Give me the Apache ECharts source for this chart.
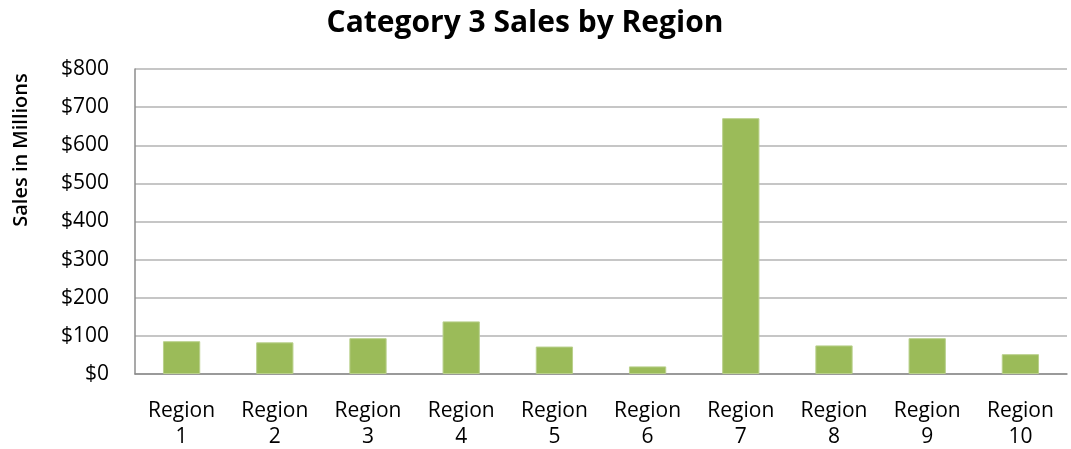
<!DOCTYPE html>
<html>
<head>
<meta charset="utf-8">
<style>
  html, body { margin: 0; padding: 0; background: #fff; }
  #chart { width: 1071px; height: 449px; }
</style>
<script src="https://cdn.jsdelivr.net/npm/echarts@6/dist/echarts.min.js"></script>
</head>
<body>
<div id="chart"></div>
<script>
// Category 3 sales per region, in millions of dollars
const regions = ['Region\n1', 'Region\n2', 'Region\n3', 'Region\n4', 'Region\n5',
                 'Region\n6', 'Region\n7', 'Region\n8', 'Region\n9', 'Region\n10'];
const sales = [86, 83, 94, 138, 72, 20, 671, 75, 94, 52];
const chartTitle = 'Category 3 Sales by Region';
const yAxisTitle = 'Sales in Millions';

const FONT = '"Open Sans", sans-serif';
const chart = echarts.init(document.getElementById('chart'), null, { renderer: 'canvas' });

chart.setOption({
  animation: false,
  backgroundColor: '#ffffff',
  graphic: [{
    // chart title, centred over the plot
    type: 'text',
    x: 525,
    y: 23,
    style: {
      text: chartTitle,
      font: 'bold 30px "Open Sans", sans-serif',
      fill: '#000',
      align: 'center',
      verticalAlign: 'middle'
    }
  }, {
    // rotated value-axis title
    type: 'text',
    x: 11,
    y: 150,
    rotation: Math.PI / 2,
    style: {
      text: yAxisTitle,
      font: '600 20px "Open Sans", sans-serif',
      fill: '#000',
      align: 'center',
      verticalAlign: 'top'
    }
  }],
  grid: {
    left: 135, right: 4, top: 69, bottom: 75,
    containLabel: false, outerBoundsMode: 'none'
  },
  xAxis: {
    type: 'category',
    data: regions,
    axisLine: { show: true, lineStyle: { color: '#8c8c8c', width: 1.5 } },
    axisTick: { show: false },
    axisLabel: {
      fontFamily: FONT, fontSize: 21, color: '#000',
      lineHeight: 26, margin: 24, interval: 0
    }
  },
  yAxis: {
    type: 'value',
    min: 0, max: 800, interval: 100,
    axisLine: { show: true, lineStyle: { color: '#8c8c8c', width: 1.5 } },
    axisTick: { show: false },
    splitLine: { lineStyle: { color: '#b3b3b3', width: 1.5 } },
    axisLabel: {
      fontFamily: FONT, fontSize: 21, color: '#000', margin: 26,
      formatter: v => '$' + v
    }
  },
  series: [{
    type: 'bar',
    data: sales,
    barWidth: '40%',
    itemStyle: { color: '#9bbb59', borderColor: '#b9d08c', borderWidth: 1 }
  }]
});
</script>
</body>
</html>
